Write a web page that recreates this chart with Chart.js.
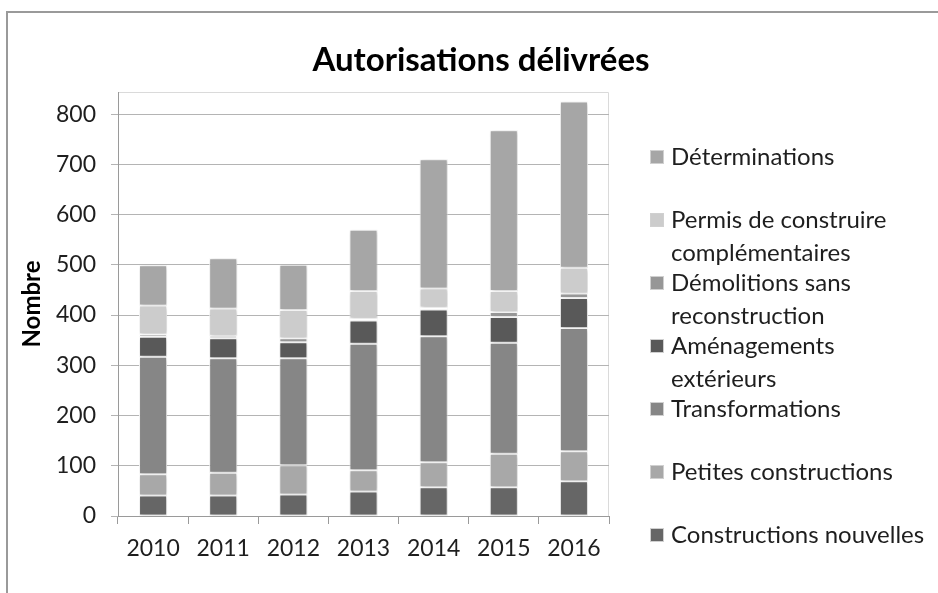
<!DOCTYPE html>
<html>
<head>
<meta charset="utf-8">
<script src="https://cdn.jsdelivr.net/npm/chart.js@4/dist/chart.umd.min.js"></script>
<style>
  html, body { margin: 0; padding: 0; background: #fff; }
</style>
</head>
<body>
<canvas id="chart" width="938" height="593"></canvas>
<script>
const years = ["2010", "2011", "2012", "2013", "2014", "2015", "2016"];

// bottom to top of each stack
const constructionsNouvelles = [41, 41, 43, 49, 57, 57, 69];
const petitesConstructions   = [42, 45, 58, 42, 50, 67, 60];
const transformations        = [234, 228, 213, 252, 251, 221, 245];
const amenagements           = [40, 40, 32, 46, 53, 51, 60];
const demolitions            = [5, 5, 8, 4, 4, 10, 9];
const permisComplementaires  = [57, 54, 56, 55, 38, 42, 51];
const determinations         = [80, 100, 90, 122, 257, 320, 331];

const yTicks = [0, 100, 200, 300, 400, 500, 600, 700, 800];

const FONT = "Lato, 'Open Sans', sans-serif";
const TEXT = "#1e1e1e";

function serie(label, data, color) {
    return {
        label: label,
        data: data,
        backgroundColor: color,
        borderColor: "#ffffff",
        borderWidth: 1,
        borderSkipped: false,
        categoryPercentage: 1,
        barPercentage: 0.4
    };
}

const datasets = [
    serie("Constructions nouvelles", constructionsNouvelles, "#666666"),
    serie("Petites constructions", petitesConstructions, "#a8a8a8"),
    serie("Transformations", transformations, "#868686"),
    serie("Aménagements extérieurs", amenagements, "#595959"),
    serie("Démolitions sans reconstruction", demolitions, "#979797"),
    serie("Permis de construire complémentaires", permisComplementaires, "#cccccc"),
    serie("Déterminations", determinations, "#a6a6a6")
];

// frame, plot border, title and a legend laid out like the spreadsheet one
const decor = {
    id: "decor",
    beforeDraw(chart) {
        const c = chart.ctx;
        const a = chart.chartArea;
        c.save();
        c.fillStyle = "#fff";
        c.fillRect(0, 0, chart.width, chart.height);
        c.strokeStyle = "#9a9a9a";
        c.lineWidth = 2;
        c.beginPath();
        c.moveTo(7, chart.height);
        c.lineTo(7, 12);
        c.lineTo(chart.width, 12);
        c.stroke();

        c.strokeStyle = "#dadada";
        c.lineWidth = 1;
        c.beginPath();
        c.moveTo(a.left, a.top + 0.5);
        c.lineTo(a.right - 0.5, a.top + 0.5);
        c.lineTo(a.right - 0.5, a.bottom);
        c.stroke();

        c.fillStyle = "#000";
        c.font = "bold 33px " + FONT;
        c.textAlign = "center";
        c.textBaseline = "alphabetic";
        c.fillText("Autorisations délivrées", 481, 71);
        c.restore();
    },
    beforeDatasetsDraw(chart) {
        const c = chart.ctx;
        c.save();
        c.shadowColor = "rgba(0,0,0,0.22)";
        c.shadowBlur = 4;
        c.shadowOffsetX = 1;
        c.shadowOffsetY = 1;
    },
    afterDatasetsDraw(chart) {
        chart.ctx.restore();
    },
    afterDraw(chart) {
        const c = chart.ctx;
        c.save();
        c.font = "24px " + FONT;
        c.textBaseline = "middle";
        c.textAlign = "left";
        const items = chart.data.datasets.slice().reverse();
        items.forEach((ds, i) => {
            const y = 157 + i * 63;
            c.fillStyle = ds.backgroundColor;
            c.fillRect(650, y - 7, 14, 14);
            c.strokeStyle = "#d0d0d0";
            c.lineWidth = 1;
            c.strokeRect(650.5, y - 6.5, 13, 13);
            c.fillStyle = TEXT;
            // wrap the label to the legend width
            const words = ds.label.split(" ");
            const lines = [];
            let line = "";
            words.forEach(w => {
                const t = line ? line + " " + w : w;
                if (c.measureText(t).width > 262 && line) {
                    lines.push(line);
                    line = w;
                } else {
                    line = t;
                }
            });
            lines.push(line);
            lines.forEach((l, k) => c.fillText(l, 671, y + k * 33));
        });
        c.restore();
    }
};

new Chart(document.getElementById("chart"), {
    type: "bar",
    data: { labels: years, datasets: datasets },
    options: {
        responsive: false,
        animation: false,
        layout: { padding: { top: 92, left: 0, right: 329, bottom: 27 } },
        scales: {
            x: {
                stacked: true,
                grid: {
                    display: true,
                    drawOnChartArea: false,
                    drawTicks: true,
                    tickLength: 8,
                    offset: true,
                    color: "#9a9a9a"
                },
                border: { color: "#9a9a9a", width: 1 },
                ticks: {
                    color: TEXT,
                    font: { family: FONT, size: 23 },
                    padding: 11,
                    maxRotation: 0
                },
                afterFit(scale) { scale.height = 50; }
            },
            y: {
                stacked: true,
                min: 0,
                max: 844,
                afterBuildTicks(scale) {
                    scale.ticks = yTicks.map(v => ({ value: v }));
                },
                grid: {
                    color: "#b4b4b4",
                    tickLength: 7,
                    drawTicks: true
                },
                border: { color: "#9a9a9a", width: 1 },
                ticks: {
                    color: TEXT,
                    font: { family: FONT, size: 23 },
                    padding: 15
                },
                title: {
                    display: true,
                    text: "Nombre",
                    color: "#000",
                    font: { family: FONT, size: 24, weight: "bold" },
                    padding: { top: 18, bottom: 0 }
                },
                afterFit(scale) { scale.width = 118; }
            }
        },
        plugins: {
            legend: { display: false },
            title: { display: false },
            tooltip: { enabled: false }
        }
    },
    plugins: [decor]
});
</script>
</body>
</html>
